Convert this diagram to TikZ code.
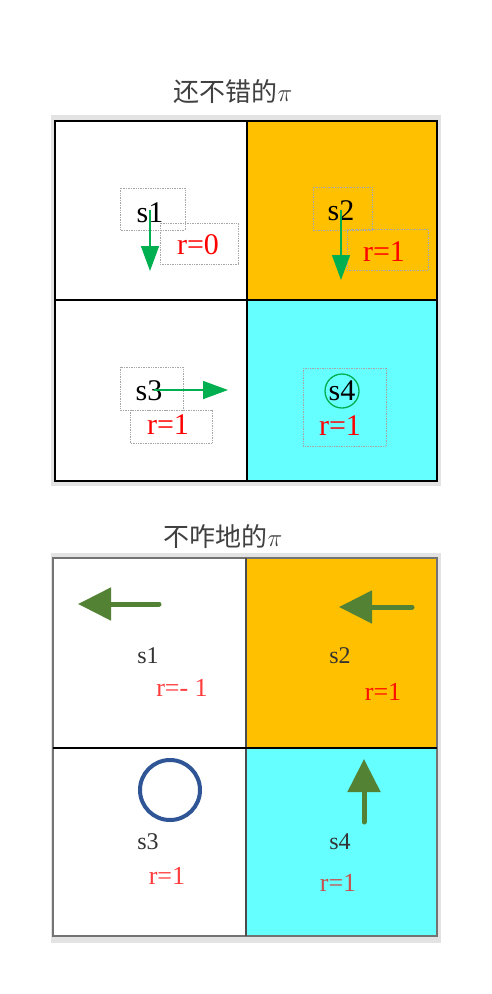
\documentclass[tikz,border=0pt]{standalone}
\usepackage{fontspec}
\setmainfont{Liberation Serif}
\newfontfamily\cjk{Noto Sans CJK SC}
\usetikzlibrary{arrows.meta}
\definecolor{cellorange}{HTML}{FFC000}
\definecolor{cellcyan}{HTML}{66FFFF}
\definecolor{arrgreen}{HTML}{00B050}
\definecolor{arrolive}{HTML}{548235}
\definecolor{ringblue}{HTML}{2F5597}
\definecolor{titlegray}{HTML}{404040}
\definecolor{framegray}{HTML}{E3E3E3}
\definecolor{softred}{HTML}{FF3B3B}
\definecolor{dullred}{HTML}{C8504D}
\tikzset{
  title/.style={font=\cjk\fontsize{26}{28}\selectfont, text=titlegray, inner sep=0pt},
  stxt/.style={font=\fontsize{30}{32}\selectfont, inner sep=0pt},
  rtxt/.style={font=\fontsize{30}{32}\selectfont, text=red, inner sep=0pt},
  stxtb/.style={font=\fontsize{24}{26}\selectfont, text=black!80, inner sep=0pt},
  rtxtb/.style={font=\fontsize{26}{28}\selectfont, inner sep=0pt},
  dotbox/.style={draw=black!35, densely dotted, line width=0.7pt},
  cellline/.style={draw=black, line width=1.3pt},
  garrow/.style={draw=arrgreen, line width=1.6pt, -{Triangle[width=18pt,length=25pt]}},
  oarrow/.style={draw=arrolive, line width=5pt, line cap=round, -{Triangle[width=32pt,length=33pt]}},
}
\begin{document}
\begin{tikzpicture}[x=1pt,y=-1pt]
\useasboundingbox (0,0) rectangle (492,994);
\fill[white] (0,0) rectangle (492,994);

% ---------- top panel ----------
\node[title] (t1) at (233,92) {还不错的$\pi$};
\fill[framegray] (51,115) rectangle (441,486);
\fill[white] (55,121) rectangle (247,300);
\fill[cellorange] (247,121) rectangle (437,300);
\fill[white] (55,300) rectangle (247,481);
\fill[cellcyan] (247,300) rectangle (437,481);
\draw[cellline] (55,121) rectangle (437,481);
\draw[cellline] (247,121) -- (247,481);
\draw[cellline] (55,300) -- (437,300);

% dotted boxes
\draw[dotbox] (120,188) rectangle (185,230);
\draw[dotbox] (160,223) rectangle (238,264);
\draw[dotbox] (313,187) rectangle (372,230);
\draw[dotbox] (347,229) rectangle (428,270);
\draw[dotbox] (120,367) rectangle (183,410);
\draw[dotbox] (130,410) rectangle (212,443);
\draw[dotbox] (303,368) rectangle (386,446);

\node[stxt] (s1) at (150,213) {s1};
\node[rtxt] (r1) at (198,245) {r=0};
\node[stxt] (s2) at (341,211) {s2};
\node[rtxt] (r2) at (384,252) {r=1};
\node[stxt] (s3) at (149,391) {s3};
\node[rtxt] (r3) at (168,425) {r=1};
\node[stxt] (s4) at (342,391) {s4};
\node[rtxt] (r4) at (340,426) {r=1};
\draw[arrgreen, line width=1.3pt] (s4) circle (17pt);

\coordinate (a1s) at (150,210);
\coordinate (a1e) at (150,271);
\coordinate (a2s) at (341,210);
\coordinate (a2e) at (341,280);
\coordinate (a3s) at (154,390);
\coordinate (a3e) at (228,390);
\draw[garrow] (a1s) -- (a1e);
\draw[garrow] (a2s) -- (a2e);
\draw[garrow] (a3s) -- (a3e);

% ---------- bottom panel ----------
\node[title] (t2) at (223,537) {不咋地的$\pi$};
\fill[framegray] (51,553) rectangle (441,943);
\fill[white] (53,558) rectangle (246,748);
\fill[cellorange] (246,558) rectangle (437,748);
\fill[white] (53,748) rectangle (246,936);
\fill[cellcyan] (246,748) rectangle (437,936);
\draw[draw=black!55, line width=1.3pt] (53,558) rectangle (437,936);
\draw[draw=black!70, line width=1.1pt] (246,558) -- (246,936);
\draw[cellline, line width=1.1pt] (53,748) -- (437,748);

\node[stxtb] (b1) at (148,656) {s1};
\node[rtxtb, text=softred] (q1) at (182,688) {r=- 1};
\node[stxtb] (b2) at (340,656) {s2};
\node[rtxtb, text=red!90!orange] (q2) at (383,692) {r=1};
\node[stxtb] (b3) at (148,842) {s3};
\node[rtxtb, text=softred] (q3) at (167,876) {r=1};
\node[stxtb] (b4) at (340,842) {s4};
\node[rtxtb, text=dullred] (q4) at (338,883) {r=1};

\coordinate (ring) at (170,790);
\draw[ringblue, line width=4pt] (ring) circle (30pt);

\coordinate (o1s) at (159,604);
\coordinate (o1e) at (78,604);
\coordinate (o2s) at (412,607);
\coordinate (o2e) at (339,607);
\coordinate (o4s) at (364,822);
\coordinate (o4e) at (364,759);
\draw[oarrow] (o1s) -- (o1e);
\draw[oarrow] (o2s) -- (o2e);
\draw[oarrow] (o4s) -- (o4e);
\end{tikzpicture}
\end{document}
